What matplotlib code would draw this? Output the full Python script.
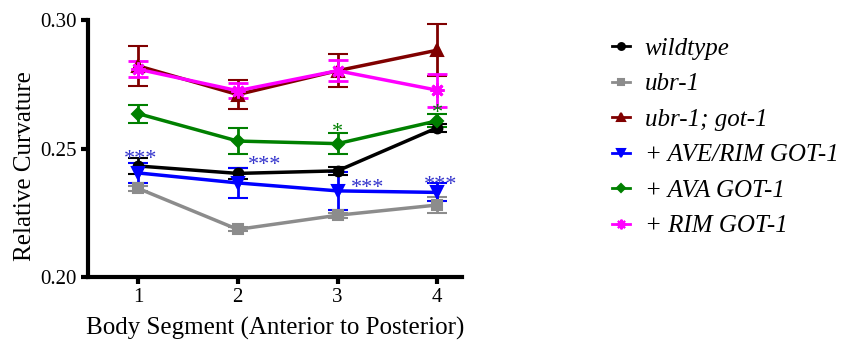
import matplotlib
matplotlib.use("Agg")
import matplotlib.pyplot as plt
from matplotlib.lines import Line2D

segments = [1, 2, 3, 4]
labels = ["wildtype", "ubr-1", "ubr-1; got-1", "+ AVE/RIM GOT-1", "+ AVA GOT-1", "+ RIM GOT-1"]
wildtype = [0.2432, 0.2403, 0.2413, 0.2581]
wildtype_err = [0.003, 0.002, 0.0015, 0.0015]
ubr1 = [0.2345, 0.2185, 0.2240, 0.2280]
ubr1_err = [0.001, 0.0008, 0.0010, 0.003]
ubr1_got1 = [0.2822, 0.2710, 0.2803, 0.2883]
ubr1_got1_err = [0.0077, 0.0058, 0.0065, 0.0101]
ave_rim = [0.2405, 0.2366, 0.2335, 0.2329]
ave_rim_err = [0.0040, 0.0060, 0.0075, 0.0035]
ava = [0.2636, 0.2529, 0.2519, 0.2608]
ava_err = [0.0035, 0.0052, 0.0040, 0.0025]
rim = [0.2809, 0.2725, 0.2803, 0.2727]
rim_err = [0.0030, 0.0030, 0.0040, 0.0065]

series = [wildtype, ubr1, ubr1_got1, ave_rim, ava, rim]
errors = [wildtype_err, ubr1_err, ubr1_got1_err, ave_rim_err, ava_err, rim_err]
colors = ["black", "#8c8c8c", "#800000", "#0000ff", "#008000", "#ff00ff"]
markers = ["o", "s", "^", "v", "D", (8, 2, 0)]
msizes = [7, 7, 8, 8, 6, 10]

plt.rcParams['font.family'] = ['Liberation Serif', 'DejaVu Serif']

fig = plt.figure(figsize=(8.42, 3.41), dpi=100)
ax = fig.add_axes([0.1045, 0.188, 0.4445, 0.753])

handles = []
for y, e, c, m, ms, lab in zip(series, errors, colors, markers, msizes, labels):
    ax.errorbar(segments, y, yerr=e, color=c, marker=m, markersize=ms,
                linewidth=2.5, elinewidth=2, capsize=7, capthick=2,
                markeredgewidth=1.5 if m != (8, 2, 0) else 2)
    handles.append(Line2D([], [], color=c, marker=m, markersize=ms * 0.7,
                          linewidth=2, markeredgewidth=1.5))

# significance annotations
sig = dict(color="#3333cc", fontsize=16, ha="center", va="center")
ax.text(1.03, 0.2457, "***", **sig)
ax.text(2.27, 0.2435, "***", **sig)
ax.text(3.3, 0.2345, "***", **sig)
ax.text(4.03, 0.2354, "***", **sig)
ax.text(3.0, 0.2562, "*", color="#008000", fontsize=16, ha="center", va="center")
ax.text(4.0, 0.2637, "*", color="#008000", fontsize=16, ha="center", va="center")

ax.set_xlim(0.5, 4.25)
ax.set_ylim(0.20, 0.30)
ax.set_xticks(segments)
ax.set_yticks([0.20, 0.25, 0.30])
ax.set_yticklabels(["0.20", "0.25", "0.30"])
for s in ["top", "right"]:
    ax.spines[s].set_visible(False)
for s in ["left", "bottom"]:
    ax.spines[s].set_linewidth(3)
ax.tick_params(axis="both", width=3, length=5, labelsize=15, direction="out", pad=3)
ax.set_xlabel("Body Segment (Anterior to Posterior)", fontsize=18, labelpad=7)
ax.set_ylabel("Relative Curvature", fontsize=18)
ax.yaxis.set_label_coords(-0.14, 0.43)

leg = fig.legend(handles=handles, labels=labels, loc="upper left",
                 bbox_to_anchor=(0.715, 0.92), frameon=False,
                 prop={"style": "italic", "size": 18}, handlelength=0.7,
                 handletextpad=0.6, labelspacing=0.52, borderaxespad=0)

fig.savefig("out.png", dpi=100)
